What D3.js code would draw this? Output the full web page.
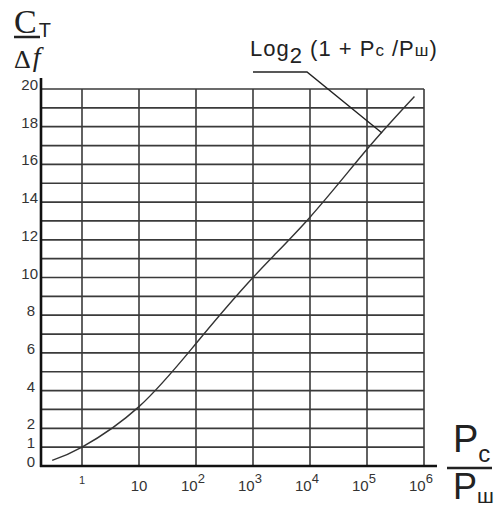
<!DOCTYPE html>
<html>
<head>
<meta charset="utf-8">
<script src="https://cdn.jsdelivr.net/npm/d3@7"></script>
<style>
  body { margin: 0; background: #fff; }
  text { font-family: "Liberation Sans", Arial, sans-serif; fill: #222; }
</style>
</head>
<body>
<svg id="chart" width="495" height="510"></svg>
<script>
// values
var yGrid = [1,2,3,4,5,6,7,8,9,10,11,12,13,14,15,16,17,18,19,20];
var yTickLabels = [0,1,2,4,6,8,10,12,14,16,18,20];
var xGrid = [1,10,1e2,1e3,1e4,1e5,1e6];
var xTickExp = [0,1,2,3,4,5,6];
// ratio Pc/Pш, capacity per hertz (hand drawn curve)
var ratio = [0.3, 1, 10, 100, 1000, 1e4, 1e5, 6.8e5];
var cap   = [0.3, 1.0, 3.15, 6.5, 10.0, 13.2, 16.8, 19.6];

var svg = d3.select("#chart");

var x = d3.scaleLog().domain([1, 1e6]).range([82, 424]);
var y = d3.scaleLinear().domain([0, 20]).range([466, 89]);

var left = 41, bottom = 466;

/* grid */
svg.selectAll(".hgrid").data(yGrid).enter().append("line")
  .attr("class","hgrid")
  .attr("x1", left).attr("x2", x(1e6))
  .attr("y1", function(d){ return y(d); })
  .attr("y2", function(d){ return y(d); })
  .attr("stroke","#3a3a3a")
  .attr("stroke-width",1.7);

svg.selectAll(".vgrid").data(xGrid).enter().append("line")
  .attr("class","vgrid")
  .attr("x1", function(d){ return x(d); })
  .attr("x2", function(d){ return x(d); })
  .attr("y1", y(20)).attr("y2", bottom)
  .attr("stroke","#3a3a3a")
  .attr("stroke-width",1.6);

/* axes */
svg.append("line")
  .attr("x1",left).attr("x2",left)
  .attr("y1",78).attr("y2",bottom+1)
  .attr("stroke","#111").attr("stroke-width",2.6);

svg.append("line")
  .attr("x1",left-1).attr("x2",437)
  .attr("y1",bottom).attr("y2",bottom)
  .attr("stroke","#111").attr("stroke-width",2.6);

/* y tick labels */
svg.selectAll(".ylab").data(yTickLabels).enter().append("text")
  .attr("class","ylab")
  .attr("x", function(d){ return d < 10 ? 35 : 38; })
  .attr("y", function(d){ return y(d) + 1; })
  .attr("text-anchor","end")
  .attr("font-size",15)
  .style("fill","#333")
  .text(function(d){ return d; });

/* x tick labels */
var xl = svg.selectAll(".xlab").data(xTickExp).enter().append("text")
  .attr("class","xlab")
  .attr("x", function(d){ return x(Math.pow(10,d)) - (d > 1 ? 3 : 0); })
  .attr("y", 491)
  .attr("text-anchor","middle")
  .attr("font-size", function(d){ return d == 0 ? 11 : 15; })
  .style("fill","#333");

xl.append("tspan").text(function(d){ return d == 0 ? "1" : "10"; });
xl.filter(function(d){ return d > 1; })
  .append("tspan")
  .attr("dy",-8)
  .attr("font-size",13)
  .text(function(d){ return d; });

xl.filter(function(d){ return d == 0; }).attr("y",484);

/* curve */
var pts = ratio.map(function(r,i){ return [r, cap[i]]; });
var lineGenerator = d3.line()
  .x(function(d){ return x(d[0]); })
  .y(function(d){ return y(d[1]); })
  .curve(d3.curveNatural);

svg.append("path")
  .attr("d", lineGenerator(pts))
  .attr("fill","none")
  .attr("stroke","#333")
  .attr("stroke-width",1.4);

/* annotation */
svg.append("path")
  .attr("d","M253,72 L307,72 L382,133")
  .attr("fill","none")
  .attr("stroke","#222")
  .attr("stroke-width",1.4);

var ann = svg.append("text")
  .attr("x",250).attr("y",56)
  .attr("font-size",22)
  .attr("letter-spacing",1);
ann.append("tspan").text("Log");
ann.append("tspan").attr("dy",7).text("2");
ann.append("tspan").attr("dy",-7).text(" (1 + P");
ann.append("tspan").attr("font-size",17).text("c");
ann.append("tspan").text(" /P");
ann.append("tspan").attr("font-size",17).text("ш");
ann.append("tspan").text(")");

/* y title */
var ct = svg.append("text")
  .attr("x",14).attr("y",33);
ct.append("tspan")
  .style("font-family","'Liberation Serif', serif")
  .attr("font-size",34)
  .text("C");
ct.append("tspan")
  .attr("dx",2).attr("dy",4)
  .attr("font-size",20)
  .text("T");
svg.append("line")
  .attr("x1",14).attr("x2",40)
  .attr("y1",37).attr("y2",37)
  .attr("stroke","#222").attr("stroke-width",2.5);
var df = svg.append("text")
  .attr("x",14).attr("y",68)
  .style("font-family","'Liberation Serif', serif");
df.append("tspan").attr("font-size",26).text("Δ");
df.append("tspan")
  .attr("dx",2).attr("dy",-2)
  .style("font-style","italic")
  .attr("font-size",28)
  .text("f");

/* x title */
var num = svg.append("text")
  .attr("x",453).attr("y",452)
  .attr("font-size",38);
num.append("tspan").text("P");
num.append("tspan").attr("dy",10).attr("font-size",24).text("c");

svg.append("line")
  .attr("x1",447).attr("x2",492)
  .attr("y1",468).attr("y2",468)
  .attr("stroke","#222").attr("stroke-width",2.5);

var den = svg.append("text")
  .attr("x",453).attr("y",499)
  .attr("font-size",36);
den.append("tspan").text("P");
den.append("tspan").attr("dy",4).attr("font-size",21).text("ш");
</script>
</body>
</html>
